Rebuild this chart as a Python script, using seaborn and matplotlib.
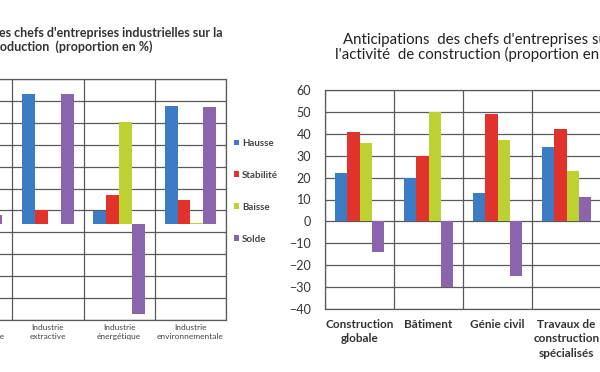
import numpy as np
import pandas as pd
import matplotlib
matplotlib.use("Agg")
import matplotlib.pyplot as plt
import seaborn as sns

# ---- data ----
series = ["Hausse", "Stabilité", "Baisse", "Solde"]
colors = ["#3b7cc4", "#e1322c", "#bdd133", "#8b64ae"]

ind_categories = ["Industrie\nmanufacturière", "Industrie\nextractive",
                  "Industrie\nénergétique", "Industrie\nenvironnementale"]
ind_hausse = [40, 90, 9, 82]
ind_stabilite = [26, 10, 20, 17]
ind_baisse = [34, 0, 71, 1]
ind_solde = [6, 90, -62, 81]

con_categories = ["Construction\nglobale", "Bâtiment", "Génie civil",
                  "Travaux de\nconstruction\nspécialisés"]
con_hausse = [22, 20, 13, 34]
con_stabilite = [41, 30, 49, 42]
con_baisse = [36, 50, 37, 23]
con_solde = [-14, -30, -25, 11]

con_yticks = [-40, -30, -20, -10, 0, 10, 20, 30, 40, 50, 60]


def long_df(cats, *vals):
    rows = []
    for s, v in zip(series, vals):
        for c, x in zip(cats, v):
            rows.append({"cat": c, "serie": s, "val": x})
    return pd.DataFrame(rows)


dfL = long_df(ind_categories, ind_hausse, ind_stabilite, ind_baisse, ind_solde)
dfR = long_df(con_categories, con_hausse, con_stabilite, con_baisse, con_solde)

sns.set_theme(style="white")
plt.rcParams["font.family"] = ["Lato", "DejaVu Sans"]

W, H = 600, 372
fig = plt.figure(figsize=(W / 100, H / 100), dpi=100)
grid_col = "#5a5a5a"

# ---- left chart (partly cropped) ----
axL = fig.add_axes([-59 / W, 1 - 320 / H, 285 / W, 241 / H])
sns.barplot(data=dfL, x="cat", y="val", hue="serie", palette=colors,
            width=0.72, saturation=1, ax=axL, order=ind_categories,
            hue_order=series, linewidth=0)
ylo, yhi = -66.5, 100.5
axL.set_ylim(ylo, yhi)
axL.set_yticks(np.linspace(ylo, yhi, 12))
axL.set_xlim(-0.5, len(ind_categories) - 0.5)
axL.set_xticks(np.arange(-0.5, len(ind_categories)), minor=True)
axL.grid(True, axis="y", which="major", color=grid_col, lw=0.9)
axL.grid(True, axis="x", which="minor", color=grid_col, lw=0.9)
axL.set_axisbelow(True)
axL.tick_params(axis="y", left=False, labelleft=False)
axL.tick_params(axis="x", which="both", length=0, pad=3, labelsize=6,
                labelcolor="#444444")
for t in axL.get_xticklabels():
    t.set_linespacing(1.3)
axL.set_xlabel("")
axL.set_ylabel("")
for sp in axL.spines.values():
    sp.set_color(grid_col)
    sp.set_linewidth(0.9)
sns.move_legend(axL, "upper left", bbox_to_anchor=(234 / W, 1 - 139 / H),
                bbox_transform=fig.transFigure, title=None, frameon=False,
                fontsize=7, handlelength=0.55, handleheight=0.55,
                handletextpad=0.25, labelspacing=2.35, borderpad=0,
                borderaxespad=0)
for t in axL.get_legend().get_texts():
    t.set_fontweight("bold")
    t.set_color("#444444")

fig.text(223 / W, 1 - 33 / H,
         "Anticipations des chefs d'entreprises industrielles sur la",
         ha="right", va="center", fontsize=9, fontweight="bold", color="#333333")
fig.text(153 / W, 1 - 47 / H, "production  (proportion en %)",
         ha="right", va="center", fontsize=9, fontweight="bold", color="#333333")

# ---- right chart ----
axR = fig.add_axes([325 / W, 1 - 309 / H, 276 / W, 219 / H])
sns.barplot(data=dfR, x="cat", y="val", hue="serie", palette=colors,
            width=0.7, saturation=1, ax=axR, order=con_categories,
            hue_order=series, legend=False, linewidth=0)
axR.set_ylim(con_yticks[0], con_yticks[-1])
axR.set_yticks(con_yticks)
axR.set_xlim(-0.5, len(con_categories) - 0.5)
axR.set_xticks(np.arange(-0.5, len(con_categories)), minor=True)
axR.grid(True, axis="y", which="major", color=grid_col, lw=0.9)
axR.grid(True, axis="x", which="minor", color=grid_col, lw=0.9)
axR.set_axisbelow(True)
axR.tick_params(axis="y", length=0, pad=10, labelsize=9, labelcolor="#333333")
axR.tick_params(axis="x", which="both", length=0, pad=7, labelsize=8.5)
for t in axR.get_xticklabels():
    t.set_fontweight("bold")
    t.set_color("#333333")
    t.set_linespacing(1.4)
axR.set_xlabel("")
axR.set_ylabel("")
for sp in axR.spines.values():
    sp.set_color(grid_col)
    sp.set_linewidth(0.9)

fig.text(343 / W, 1 - 40 / H, "Anticipations  des chefs d'entreprises sur la",
         ha="left", va="center", fontsize=10.8, color="#222222")
fig.text(335 / W, 1 - 54 / H, "l'activité  de construction (proportion en %)",
         ha="left", va="center", fontsize=10.8, color="#222222")

fig.savefig("out.png", dpi=100, facecolor="white")
